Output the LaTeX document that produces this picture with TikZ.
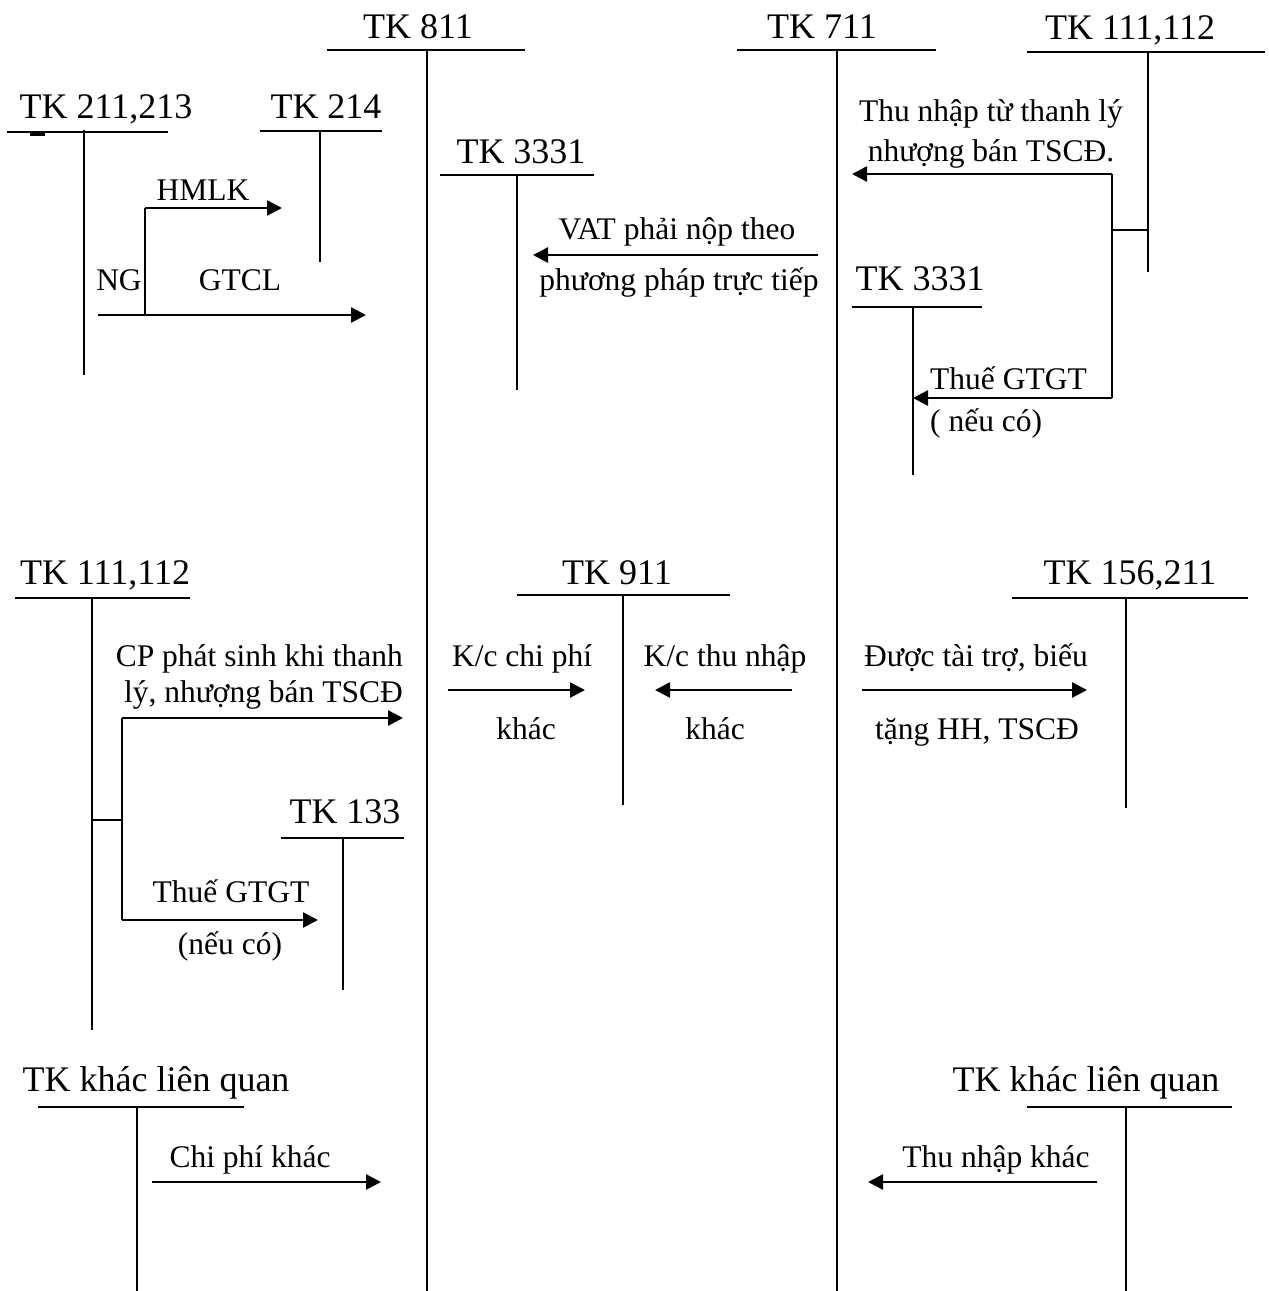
\documentclass[tikz,border=0pt]{standalone}
\usepackage{fontspec}
\setmainfont{Liberation Serif}
\usepackage{tikz}
\usetikzlibrary{arrows.meta}

\begin{document}
\begin{tikzpicture}[x=1pt, y=-1pt,
  acct/.style={anchor=base, inner sep=0pt, font=\fontsize{36}{40}\selectfont},
  lbl/.style={anchor=base, inner sep=0pt, font=\fontsize{31.5}{36}\selectfont},
  tln/.style={line width=1.8pt},
  arr/.style={line width=2.6pt, -{Triangle[length=15pt,width=15pt]}}]
\useasboundingbox (0,0) rectangle (1269,1291);
% top row of accounts
\node[acct] (t811) at (418,38) {TK 811};
\draw[tln] (327,50) -- (525,50) (427,50) -- (427,1291);
\node[acct] (t711) at (822,38) {TK 711};
\draw[tln] (737,50) -- (936,50) (837,50) -- (837,1291);
\node[acct] (t111a) at (1130,39) {TK 111,112};
\draw[tln] (1027,52) -- (1265,52) (1148,52) -- (1148,272);
\node[acct] (t211) at (106,118) {TK 211,213};
\draw[tln] (7,132) -- (168,132) (84,130) -- (84,375);
\draw[line width=3pt] (30,134) -- (45,134);
\node[acct] (t214) at (326,118) {TK 214};
\draw[tln] (260,131) -- (382,131) (320,131) -- (320,262);
\node[acct] (t3331a) at (521,163) {TK 3331};
\draw[tln] (440,175) -- (594,175) (517,175) -- (517,390);
\node[acct] (t3331b) at (920,290) {TK 3331};
\draw[tln] (852,307) -- (982,307) (913,307) -- (913,475);
% middle row
\node[acct] (t111b) at (105,584) {TK 111,112};
\draw[tln] (15,598) -- (190,598) (92,598) -- (92,1030);
\node[acct] (t911) at (617,584) {TK 911};
\draw[tln] (517,595) -- (730,595) (623,595) -- (623,805);
\node[acct] (t156) at (1130,584) {TK 156,211};
\draw[tln] (1012,598) -- (1248,598) (1126,598) -- (1126,808);
\node[acct] (t133) at (345,823) {TK 133};
\draw[tln] (281,838) -- (404,838) (343,838) -- (343,990);
% bottom row
\node[acct] (tkl) at (156,1091) {TK khác liên quan};
\draw[tln] (38,1107) -- (244,1107) (137,1107) -- (137,1291);
\node[acct] (tkr) at (1086,1091) {TK khác liên quan};
\draw[tln] (1027,1107) -- (1232,1107) (1126,1107) -- (1126,1291);

% arrow ends
\coordinate (ng0) at (98,315); \coordinate (ng1) at (366,315);
\coordinate (hm0) at (145,315); \coordinate (hm1) at (282,208);
\coordinate (tn0) at (1148,230); \coordinate (tn1) at (1112,230);
\coordinate (tn2) at (852,174); \coordinate (tn3) at (913,398);
\coordinate (vat0) at (818,255); \coordinate (vat1) at (533,255);
\coordinate (cp0) at (92,820); \coordinate (cp1) at (122,820);
\coordinate (cp2) at (403,718); \coordinate (cp3) at (318,920);
\coordinate (kc0) at (448,690); \coordinate (kc1) at (585,690);
\coordinate (kt0) at (792,690); \coordinate (kt1) at (655,690);
\coordinate (tt0) at (862,690); \coordinate (tt1) at (1087,690);
\coordinate (ck0) at (152,1182); \coordinate (ck1) at (381,1182);
\coordinate (nk0) at (1097,1182); \coordinate (nk1) at (868,1182);

\draw[arr] (ng0) -- (ng1); \draw[tln] (hm0) -- (hm0 |- hm1); \draw[arr] (hm0 |- hm1) -- (hm1);
\draw[tln] (tn0) -- (tn1); \draw[tln] (tn1 |- tn2) -- (tn1 |- tn3);
\draw[arr] (tn1 |- tn2) -- (tn2); \draw[arr] (tn1 |- tn3) -- (tn3);
\draw[arr] (vat0) -- (vat1);
\draw[tln] (cp0) -- (cp1); \draw[tln] (cp1 |- cp2) -- (cp1 |- cp3);
\draw[arr] (cp1 |- cp2) -- (cp2); \draw[arr] (cp1 |- cp3) -- (cp3);
\draw[arr] (kc0) -- (kc1); \draw[arr] (kt0) -- (kt1); \draw[arr] (tt0) -- (tt1);
\draw[arr] (ck0) -- (ck1); \draw[arr] (nk0) -- (nk1);

% labels
\node[lbl] (hmlk) at (203,200) {HMLK};
\node[lbl] (ng) at (119,290) {NG};
\node[lbl] (gtcl) at (240,290) {GTCL};
\node[lbl] (tnA) at (991,121) {Thu nhập từ thanh lý};
\node[lbl] (tnB) at (991,161) {nhượng bán TSCĐ.};
\node[lbl] (vatA) at (677,239) {VAT phải nộp theo};
\node[lbl] (vatB) at (679,290) {phương pháp trực tiếp};
\node[lbl, anchor=base west] (gtA) at (930,389) {Thuế GTGT};
\node[lbl, anchor=base west] (gtB) at (930,431) {( nếu có)};
\node[lbl, anchor=base east] (cpA) at (403,666) {CP phát sinh khi thanh};
\node[lbl, anchor=base east] (cpB) at (403,702) {lý, nhượng bán TSCĐ};
\node[lbl] (vtA) at (231,902) {Thuế GTGT};
\node[lbl] (vtB) at (230,954) {(nếu có)};
\node[lbl] (kcA) at (522,666) {K/c chi phí};
\node[lbl] (kcB) at (526,739) {khác};
\node[lbl] (ktA) at (725,666) {K/c thu nhập};
\node[lbl] (ktB) at (715,739) {khác};
\node[lbl] (ttA) at (976,666) {Được tài trợ, biếu};
\node[lbl] (ttB) at (977,739) {tặng HH, TSCĐ};
\node[lbl] (ckA) at (250,1167) {Chi phí khác};
\node[lbl] (nkA) at (996,1167) {Thu nhập khác};
\end{tikzpicture}
\end{document}
